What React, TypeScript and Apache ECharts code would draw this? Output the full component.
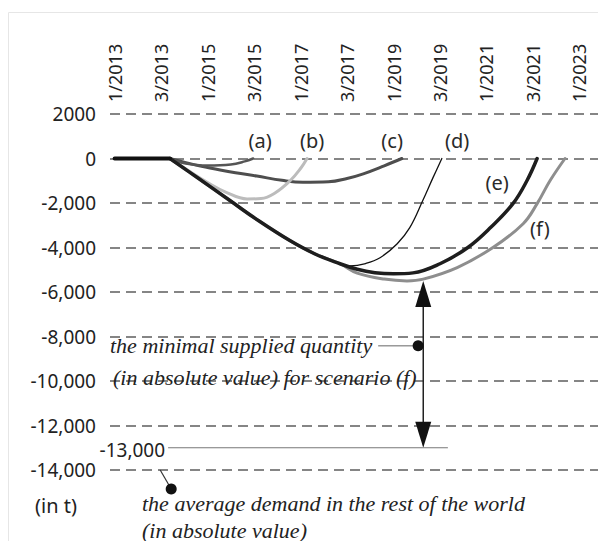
import React, { useEffect, useRef } from "react";
import * as echarts from "echarts";

// ---- axis definitions ----
const xLabels = ["1/2013", "3/2013", "1/2015", "3/2015", "1/2017", "3/2017", "1/2019", "3/2019", "1/2021", "3/2021", "1/2023"];
const xTickValues = [0, 1, 2, 3, 4, 5, 6, 7, 8, 9, 10];
const yMin = -14000;
const yMax = 2000;
const yStep = 2000;

// ---- series data [period index, quantity in t] ----
const flatSegment = [[0, 0], [1.19, 0]];
const sharedDescent = [[1.19, 0], [1.8, -890], [2.48, -1890], [3.1, -2800], [3.77, -3690], [4.3, -4280], [4.85, -4730]];
const seriesA = [[1.19, 0], [1.5, -210], [2.0, -320], [2.5, -270], [2.8, -130], [2.98, 0]];
const seriesB = [[1.19, 0], [1.6, -560], [2.0, -1080], [2.4, -1520], [2.85, -1820], [3.15, -1800], [3.45, -1550], [3.78, -990], [4.0, -450], [4.14, 0]];
const seriesC = [[1.19, 0], [1.6, -220], [2.05, -430], [2.6, -640], [3.06, -790], [3.6, -980], [4.05, -1070], [4.6, -1050], [5.0, -900], [5.35, -690], [5.8, -330], [6.18, 0]];
const tailD = [[5.07, -4830], [5.4, -4720], [5.71, -4460], [6.08, -3830], [6.35, -3110], [6.63, -1890], [6.85, -860], [7.04, 0]];
const tailE = [[5.22, -4980], [5.6, -5130], [6.0, -5180], [6.42, -5140], [7.0, -4730], [7.6, -4000], [8.1, -3080], [8.57, -2030], [8.87, -1000], [9.09, 0]];
const tailF = [[5.22, -5150], [5.8, -5420], [6.29, -5500], [6.64, -5420], [7.37, -4900], [8.14, -4000], [8.79, -2930], [9.09, -2030], [9.37, -990], [9.69, 0]];

// curve labels [x, y, text]
const curveLabels: [number, number, string][] = [
  [3.13, 810, "(a)"],
  [4.25, 810, "(b)"],
  [5.97, 810, "(c)"],
  [7.37, 810, "(d)"],
  [8.23, -1080, "(e)"],
  [9.15, -3150, "(f)"],
];

// annotation values
const arrowX = 6.64;
const minSuppliedF = -5500;
const avgDemand = -13000;
const avgDemandLineFrom = 1.15;
const avgDemandLineTo = 7.17;
const minimalDot = [6.53, -8420];
const minimalLeaderFrom = 5.67;
const bottomLeaderX = 0.98;

const fmtY = (v: number) => (v === 2000 ? "2000" : v.toLocaleString("en-US"));

export default function App() {
  const ref = useRef<HTMLDivElement>(null);
  useEffect(() => {
    if (!ref.current) return;
    const chart = echarts.init(ref.current, null, { renderer: "svg" });
    const sansFont = "'Noto Sans', 'Open Sans', sans-serif";
    const line = (name: string, data: number[][], color: string, width: number, z: number) => ({
      name,
      type: "line",
      data,
      smooth: 0.4,
      showSymbol: false,
      symbol: "none",
      z,
      lineStyle: { color, width, cap: "round", join: "round" },
    });
    chart.setOption({
      animation: false,
      backgroundColor: "#ffffff",
      grid: { left: 110, right: 0, top: 114, bottom: 71 },
      xAxis: {
        type: "value",
        position: "top",
        min: -0.1,
        max: 10.4,
        axisLine: { show: false },
        axisTick: { show: false },
        splitLine: { show: false },
        axisLabel: {
          customValues: xTickValues,
          rotate: 90,
          margin: 12,
          fontSize: 18,
          fontFamily: sansFont,
          color: "#222",
          formatter: (v: number) => xLabels[Math.round(v)] ?? "",
        },
      },
      yAxis: {
        type: "value",
        min: yMin,
        max: yMax,
        interval: yStep,
        axisLine: { show: false },
        axisTick: { show: false },
        axisLabel: {
          margin: 14,
          fontSize: 19,
          fontFamily: sansFont,
          color: "#222",
          formatter: fmtY,
        },
        splitLine: { lineStyle: { color: "#858585", width: 1.8, type: [10, 6] } },
      },
      series: [
        line("c", seriesC, "#4e4e4e", 3, 2),
        line("b", seriesB, "#bcbcbc", 3, 3),
        line("a", seriesA, "#555555", 2.5, 4),
        line("f", sharedDescent.concat(tailF), "#8e8e8e", 3, 5),
        line("d", sharedDescent.concat(tailD), "#111111", 1.3, 6),
        line("e", sharedDescent.concat(tailE), "#1e1e1e", 3.5, 7),
        line("flat", flatSegment, "#111111", 4, 8),
      ],
    });

    const p = (x: number, y: number) => chart.convertToPixel({ gridIndex: 0 }, [x, y]) as number[];
    const [ax, aTop] = p(arrowX, minSuppliedF);
    const [, aBot] = p(arrowX, avgDemand);
    const [l1x, l1y] = p(avgDemandLineFrom, avgDemand);
    const [l2x] = p(avgDemandLineTo, avgDemand);
    const [dx, dy] = p(minimalDot[0], minimalDot[1]);
    const [mlx] = p(minimalLeaderFrom, minimalDot[1]);
    const [bx, by] = p(bottomLeaderX, yMin);
    const serif = "italic 22px 'Liberation Serif', 'Times New Roman', serif";
    const txt = (text: string, x: number, y: number, extra: any = {}) => ({
      type: "text",
      x,
      y,
      z: 20,
      style: { text, font: serif, fill: "#222", verticalAlign: "middle", ...extra },
    });
    const labelEls = curveLabels.map(([x, y, t]) => {
      const [px, py] = p(x, y);
      return {
        type: "text",
        x: px,
        y: py,
        z: 20,
        style: { text: t, font: `20px ${sansFont}`, fill: "#2a2a2a", align: "center", verticalAlign: "middle" },
      };
    });

    chart.setOption({
      graphic: [
        { type: "rect", shape: { x: 8.5, y: 12.5, width: 600, height: 540 }, style: { fill: "none", stroke: "#e6e6e6", lineWidth: 1 }, z: 0 },
        ...labelEls,
        // double arrow
        { type: "line", shape: { x1: ax, y1: aTop + 20, x2: ax, y2: aBot - 20 }, style: { stroke: "#222", lineWidth: 1.5 }, z: 20 },
        { type: "polygon", shape: { points: [[ax, aTop], [ax - 8, aTop + 26], [ax + 8, aTop + 26]] }, style: { fill: "#111" }, z: 20 },
        { type: "polygon", shape: { points: [[ax, aBot], [ax - 8, aBot - 26], [ax + 8, aBot - 26]] }, style: { fill: "#111" }, z: 20 },
        // -13,000 reference line
        { type: "line", shape: { x1: l1x, y1: l1y, x2: l2x, y2: l1y }, style: { stroke: "#777", lineWidth: 1 }, z: 20 },
        {
          type: "text",
          x: l1x - 3,
          y: l1y + 2,
          z: 20,
          style: { text: "-13,000", font: `19px ${sansFont}`, fill: "#222", align: "right", verticalAlign: "middle" },
        },
        // minimal supplied quantity annotation
        { type: "line", shape: { x1: mlx, y1: dy, x2: dx, y2: dy }, style: { stroke: "#666", lineWidth: 1 }, z: 20 },
        { type: "circle", shape: { cx: dx, cy: dy, r: 5.5 }, style: { fill: "#111" }, z: 20 },
        txt("the minimal supplied quantity", 110, dy),
        txt("(in absolute value) for scenario (f)", 113, dy + 32),
        // average demand annotation
        { type: "line", shape: { x1: bx, y1: by, x2: bx + 11, y2: by + 19 }, style: { stroke: "#333", lineWidth: 1.2 }, z: 20 },
        { type: "circle", shape: { cx: bx + 11, cy: by + 19, r: 5.5 }, style: { fill: "#111" }, z: 20 },
        txt("the average demand in the rest of the world", 142, 503),
        txt("(in absolute value)", 142, 530),
        {
          type: "text",
          x: 35,
          y: 505,
          z: 20,
          style: { text: "(in t)", font: `20px ${sansFont}`, fill: "#222", verticalAlign: "middle" },
        },
      ],
    });
    return () => chart.dispose();
  }, []);
  return <div ref={ref} style={{ position: "fixed", left: 0, top: 0, width: 598, height: 541 }} />;
}
